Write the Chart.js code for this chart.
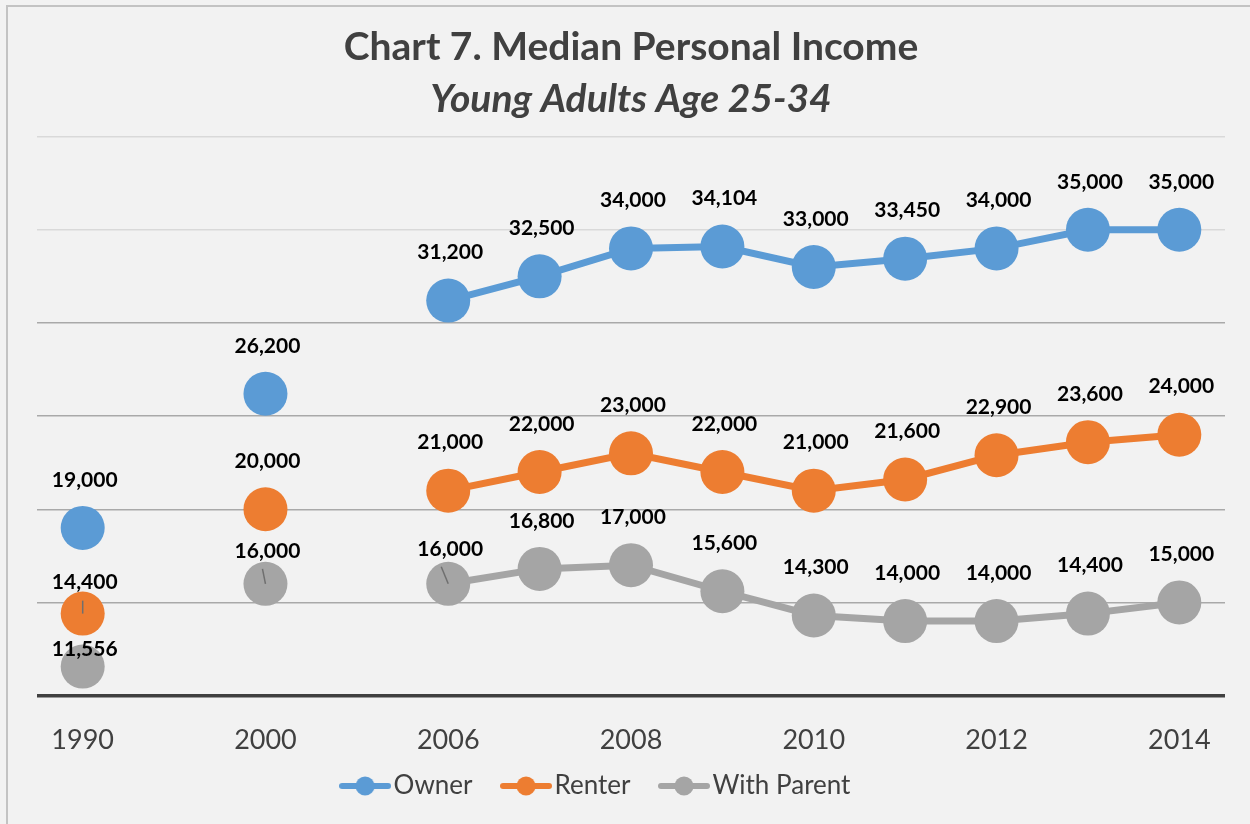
<!DOCTYPE html>
<html>
<head>
<meta charset="utf-8">
<script src="https://cdn.jsdelivr.net/npm/chart.js@4.4.1/dist/chart.umd.min.js"></script>
<style>
  html, body { margin: 0; padding: 0; background: #f2f2f2; overflow: hidden; }
  #frame {
    position: absolute; left: 6px; top: 5px; width: 1300px; height: 900px;
    border-left: 2px solid #c3c3c3; border-top: 2px solid #c3c3c3;
  }
  canvas { position: absolute; left: 0; top: 0; }
</style>
</head>
<body>
<div id="frame"></div>
<canvas id="incomeChart" width="1250" height="824"></canvas>
<script>
// categories (empty slots keep the gaps between 1990, 2000 and 2006)
const years = ["1990", "", "2000", "", "2006", "2007", "2008", "2009", "2010", "2011", "2012", "2013", "2014"];

const owner = [19000, null, 26200, null, 31200, 32500, 34000, 34104, 33000, 33450, 34000, 35000, 35000];
const renter = [14400, null, 20000, null, 21000, 22000, 23000, 22000, 21000, 21600, 22900, 23600, 24000];
const withParent = [11556, null, 16000, null, 16000, 16800, 17000, 15600, 14300, 14000, 14000, 14400, 15000];

const seriesNames = ["Owner", "Renter", "With Parent"];
const seriesColors = ["#5b9bd5", "#ed7d31", "#a5a5a5"];

// labels that sit closer to their point (some with a small leader line)
const labelNudges = {
  "1-0": { up: 31, dx: 0 },
  "2-0": { up: 17 },
  "2-2": { up: 33, dx: -3 },
  "2-4": { up: 35, dx: -7 },
};

// legend marker: short line with a dot
function legendMarker(color) {
  const c = document.createElement("canvas");
  c.width = 52;
  c.height = 20;
  const ctx = c.getContext("2d");
  ctx.strokeStyle = color;
  ctx.lineWidth = 6;
  ctx.lineCap = "round";
  ctx.beginPath();
  ctx.moveTo(3, 10);
  ctx.lineTo(49, 10);
  ctx.stroke();
  ctx.fillStyle = color;
  ctx.beginPath();
  ctx.arc(26, 10, 9.5, 0, Math.PI * 2);
  ctx.fill();
  return c;
}
const markers = seriesColors.map(legendMarker);

const valueLabels = {
  id: "valueLabels",
  afterDatasetsDraw(chart) {
    const ctx = chart.ctx;
    ctx.save();
    ctx.font = "bold 21px Lato";
    ctx.textAlign = "center";
    ctx.textBaseline = "middle";
    chart.data.datasets.forEach((ds, di) => {
      const meta = chart.getDatasetMeta(di);
      meta.data.forEach((pt, i) => {
        const v = ds.data[i];
        if (v == null) return;
        const nudge = labelNudges[di + "-" + i];
        const up = nudge ? nudge.up : 48;
        const ly = pt.y - up;
        if (nudge && nudge.dx !== undefined) {
          ctx.strokeStyle = "#6f6f6f";
          ctx.lineWidth = 1.5;
          ctx.beginPath();
          ctx.moveTo(pt.x + nudge.dx, ly + 18);
          ctx.lineTo(pt.x, pt.y);
          ctx.stroke();
        }
        ctx.fillStyle = "#000000";
        ctx.fillText(v.toLocaleString("en-US"), pt.x + 2, ly);
      });
    });
    ctx.restore();
  },
};

// Excel legend sits a bit left of centre and close under the year labels
const legendShift = {
  id: "legendShift",
  afterLayout(chart) {
    const lg = chart.legend;
    lg.left -= 31;
    lg.right -= 31;
    lg.top -= 49;
  },
};

function makeDataset(i, values) {
  return {
    label: seriesNames[i],
    data: values,
    borderColor: seriesColors[i],
    backgroundColor: seriesColors[i],
    pointBackgroundColor: seriesColors[i],
    pointBorderWidth: 0,
    pointRadius: 22,
    borderWidth: 7,
    tension: 0,
    spanGaps: false,
    clip: false,
  };
}

new Chart(document.getElementById("incomeChart").getContext("2d"), {
  type: "line",
  data: {
    labels: years,
    datasets: [makeDataset(0, owner), makeDataset(1, renter), makeDataset(2, withParent)],
  },
  options: {
    responsive: false,
    animation: false,
    events: [],
    layout: { padding: { left: 37, right: 25, top: 0, bottom: 0 } },
    scales: {
      x: {
        offset: true,
        grid: { display: false, drawTicks: false },
        border: { display: false },
        ticks: {
          autoSkip: false,
          maxRotation: 0,
          padding: 28,
          color: "#404040",
          font: { family: "Lato", size: 27 },
          callback: (val, i) => (i % 2 === 0 ? years[i] : ""),
        },
      },
      y: {
        min: 10000,
        max: 40000,
        ticks: { display: false, stepSize: 5000 },
        border: { display: false },
        grid: {
          drawTicks: false,
          color: (c) => (c.tick.value === 10000 ? "#404040" : c.tick.value >= 35000 ? "#d9d9d9" : "#a9a9a9"),
          lineWidth: (c) => (c.tick.value === 10000 ? 3.5 : 1.5),
        },
      },
    },
    plugins: {
      title: {
        display: true,
        text: "Chart 7. Median Personal Income",
        color: "#404040",
        font: { family: "Lato", size: 39, weight: "bold" },
        padding: { top: 24, bottom: 5 },
      },
      subtitle: {
        display: true,
        text: "Young Adults Age 25-34",
        color: "#404040",
        font: { family: "Lato", size: 39, weight: "bold", style: "italic" },
        padding: { top: 0, bottom: 14 },
      },
      legend: {
        position: "bottom",
        maxHeight: 40,
        labels: {
          usePointStyle: true,
          pointStyleWidth: 31,
          padding: 38,
          color: "#404040",
          font: { family: "Lato", size: 26 },
          generateLabels(chart) {
            const items = Chart.defaults.plugins.legend.labels.generateLabels(chart);
            items.forEach((it, i) => { it.pointStyle = markers[i]; });
            return items;
          },
        },
      },
      tooltip: { enabled: false },
    },
  },
  plugins: [valueLabels, legendShift],
});
</script>
</body>
</html>
